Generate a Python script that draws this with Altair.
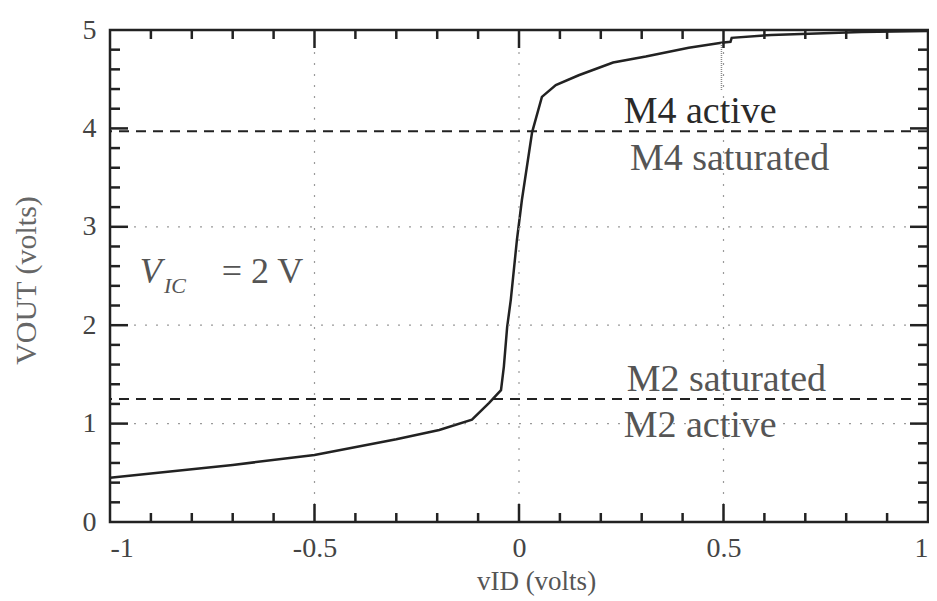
import altair as alt
import pandas as pd

# ---- data ----
vid = [-1.0, -0.70, -0.50, -0.30, -0.195, -0.115, -0.073, -0.044, -0.037, -0.029,
       -0.020, -0.005, 0.007, 0.032, 0.056, 0.09, 0.146, 0.23, 0.31, 0.415, 0.495,
       0.517, 0.52, 0.617, 0.837, 1.0]
vout = [0.45, 0.58, 0.68, 0.84, 0.935, 1.04, 1.21, 1.34, 1.58, 1.98,
        2.26, 2.87, 3.27, 3.96, 4.32, 4.44, 4.54, 4.67, 4.73, 4.82, 4.87,
        4.88, 4.92, 4.95, 4.98, 4.99]

boundary_levels = [3.97, 1.25]           # dashed region boundaries
grid_x = [-0.5, 0.0, 0.5]
grid_y = [1.0, 2.0, 3.0]

x_major_ticks = [-0.5, 0.0, 0.5]
x_minor_ticks = [-0.9, -0.8, -0.7, -0.6, -0.4, -0.3, -0.2, -0.1,
                 0.1, 0.2, 0.3, 0.4, 0.6, 0.7, 0.8, 0.9]
y_major_ticks = [1.0, 2.0, 3.0, 4.0]
y_minor_ticks = [0.2, 0.4, 0.6, 0.8, 1.2, 1.4, 1.6, 1.8, 2.2, 2.4, 2.6, 2.8,
                 3.2, 3.4, 3.6, 3.8, 4.2, 4.4, 4.6, 4.8]
x_labels = [-1, -0.5, 0, 0.5, 1]
y_labels = [0, 1, 2, 3, 4, 5]

region_text = ["M4 active", "M4 saturated", "M2 saturated", "M2 active"]
region_x = [0.443, 0.515, 0.507, 0.443]
region_y = [4.05, 3.58, 1.33, 0.86]

artifact_x = [0.495]
artifact_y = [4.39]
artifact_y2 = [4.87]

W, H = 818, 492
FONT = "Liberation Serif"
INK = "#222222"

xs = alt.Scale(domain=[-1, 1], nice=False, zero=False)
ys = alt.Scale(domain=[0, 5], nice=False, zero=False)

X_AXIS = alt.Axis(values=x_labels, labelExpr="toString(datum.value)",
                  labelFont=FONT, labelFontSize=28, labelColor="#444",
                  labelPadding=12, ticks=False, domain=False, grid=False,
                  title="vID (volts)", titleFont=FONT, titleFontSize=27,
                  titleFontWeight="normal", titleColor="#555",
                  titleX=426, titleY=67, titleBaseline="alphabetic")
Y_AXIS = alt.Axis(values=y_labels, labelFont=FONT, labelFontSize=28,
                  labelColor="#444", labelPadding=14, ticks=False,
                  domain=False, grid=False,
                  title="VOUT (volts)", titleFont=FONT, titleFontSize=30,
                  titleFontWeight="normal", titleColor="#666",
                  titleX=-84, titleY=250, titleAngle=270,
                  titleAlign="center", titleBaseline="middle")


def X(field="x"):
    return alt.X(f"{field}:Q", scale=xs, axis=X_AXIS)


def Y(field="y"):
    return alt.Y(f"{field}:Q", scale=ys, axis=Y_AXIS)


curve_df = pd.DataFrame({"x": vid, "y": vout, "idx": list(range(len(vid)))})

curve = alt.Chart(curve_df).mark_line(color=INK, strokeWidth=2.5).encode(
    x=X(), y=Y(), order=alt.Order("idx:Q"))

gx = alt.Chart(pd.DataFrame({"x": grid_x})).mark_rule(
    color="#9a9a9a", strokeWidth=1.2, strokeDash=[2, 9]).encode(x=X())
gy = alt.Chart(pd.DataFrame({"y": grid_y})).mark_rule(
    color="#9a9a9a", strokeWidth=1.2, strokeDash=[2, 9]).encode(y=Y())

dashed = alt.Chart(pd.DataFrame({"y": boundary_levels})).mark_rule(
    color=INK, strokeWidth=2, strokeDash=[10, 7]).encode(y=Y())

artifact = alt.Chart(pd.DataFrame({"x": artifact_x, "y": artifact_y, "y2": artifact_y2})).mark_rule(
    color="#888", strokeWidth=1.5, strokeDash=[1, 1]).encode(
    x=X(), y=Y(), y2="y2:Q")


def xticks(vals, length):
    d = pd.DataFrame({"x": vals})
    bottom = alt.Chart(d).mark_rule(color=INK, strokeWidth=2.5).encode(
        x=X(), y=alt.value(H), y2=alt.value(H - length))
    top = alt.Chart(d).mark_rule(color=INK, strokeWidth=2.5).encode(
        x=X(), y=alt.value(0), y2=alt.value(length))
    return [bottom, top]


def yticks(vals, length):
    d = pd.DataFrame({"y": vals})
    left = alt.Chart(d).mark_rule(color=INK, strokeWidth=2.5).encode(
        y=Y(), x=alt.value(0), x2=alt.value(length))
    right = alt.Chart(d).mark_rule(color=INK, strokeWidth=2.5).encode(
        y=Y(), x=alt.value(W), x2=alt.value(W - length))
    return [left, right]


tick_layers = (xticks(x_major_ticks, 18) + xticks(x_minor_ticks, 9)
               + yticks(y_major_ticks, 18) + yticks(y_minor_ticks, 10))

rdf = pd.DataFrame({"t": region_text, "x": region_x, "y": region_y})
region_labels = alt.Chart(rdf).mark_text(
    font=FONT, fontSize=38, baseline="alphabetic", align="center").encode(
    x=X(), y=Y(), text="t:N",
    color=alt.condition(alt.datum.t == "M4 active", alt.value("#2a2a2a"), alt.value("#555555")))

vic_v = alt.Chart(pd.DataFrame({"t": ["V"], "x": [-0.927], "y": [2.43]})).mark_text(
    font=FONT, fontSize=36, fontStyle="italic", align="left", baseline="alphabetic",
    color="#555").encode(x=X(), y=Y(), text="t:N")
vic_sub = alt.Chart(pd.DataFrame({"t": ["IC"], "x": [-0.868], "y": [2.33]})).mark_text(
    font=FONT, fontSize=22, fontStyle="italic", align="left", baseline="alphabetic",
    color="#555").encode(x=X(), y=Y(), text="t:N")
vic_rest = alt.Chart(pd.DataFrame({"t": ["= 2 V"], "x": [-0.727], "y": [2.43]})).mark_text(
    font=FONT, fontSize=36, align="left", baseline="alphabetic",
    color="#555").encode(x=X(), y=Y(), text="t:N")

chart = alt.layer(
    curve, gx, gy, artifact, dashed, *tick_layers, region_labels, vic_v, vic_sub, vic_rest
).properties(
    width=W, height=H,
    autosize=alt.AutoSizeParams(type="none"),
    padding={"left": 102, "top": 22, "right": 1, "bottom": 78},
    background="white",
).configure_view(stroke=INK, strokeWidth=2.5)

chart.save("out.html", embed_options={"renderer": "svg", "actions": False})
